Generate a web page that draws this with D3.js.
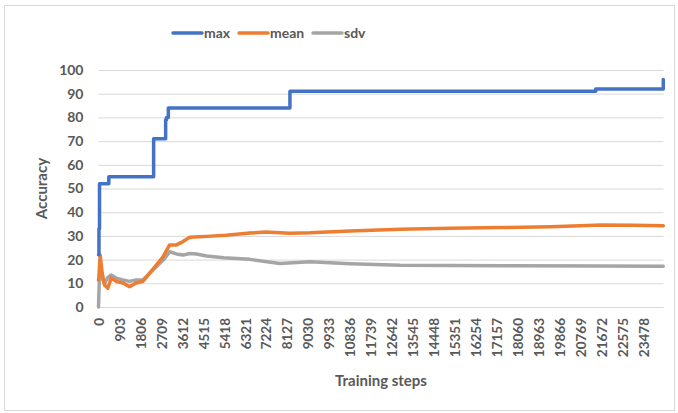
<!DOCTYPE html>
<meta charset="utf-8">
<style>
body { margin: 0; background: #fff; }
text { font-family: Lato, "Open Sans", sans-serif; font-weight: bold; fill: #595959; }
.grid line { stroke: #d9d9d9; stroke-width: 1; }
.grid .domain { display: none; }
.series { fill: none; stroke-width: 3.5; stroke-linejoin: round; stroke-linecap: round; }
</style>
<body>
<script src="https://cdn.jsdelivr.net/npm/d3@7"></script>
<script>

// step values
var maxSteps  = [0, 20, 43, 445, 2376, 2894, 2930, 3010, 8251, 21430, 24330, 24340];
var maxValues = [22, 33, 52, 55, 71, 79, 80, 84, 91, 92, 92, 96];

var meanSteps  = [0, 13, 72, 158, 259, 403, 547, 763, 1051, 1339, 1627, 1915, 2203, 2491, 2779, 3067, 3355, 3643, 3931, 4363, 4666, 5500, 6523, 7200, 8251, 9115, 10843, 13003, 15163, 17323, 19483, 20779, 21643, 23069, 24340];
var meanValues = [11.4, 12, 21.9, 14.3, 9.3, 7.9, 12.2, 10.8, 10.1, 8.6, 10.1, 10.8, 14.3, 17.7, 21.2, 26.2, 26.2, 27.6, 29.4, 29.6, 29.8, 30.3, 31.2, 31.6, 31.1, 31.3, 32.1, 32.8, 33.2, 33.5, 33.9, 34.3, 34.6, 34.5, 34.3];

var sdvSteps  = [0, 40, 80, 158, 259, 403, 547, 763, 1051, 1339, 1627, 1915, 2131, 2419, 2635, 2851, 3067, 3355, 3643, 3931, 4219, 4666, 5400, 6523, 7819, 9115, 10843, 13003, 17323, 21643, 24340];
var sdvValues = [0, 12.5, 14, 12.2, 10, 12.5, 13.5, 12.2, 11.4, 10.8, 11.4, 11.4, 13.5, 16.3, 18.4, 20.5, 23.3, 22.4, 21.9, 22.6, 22.4, 21.5, 20.8, 20.1, 18.4, 19.1, 18.3, 17.6, 17.4, 17.3, 17.2];

var xTicks = d3.range(0, 27).map(function(i) { return i * 903; });
var yTicks = [0, 10, 20, 30, 40, 50, 60, 70, 80, 90, 100];

var seriesNames  = ["max", "mean", "sdv"];
var seriesColors = ["#4472c4", "#ed7d31", "#a5a5a5"];

var W = 678, H = 413;
var plotL = 98.5, plotR = 663.5, plotT = 70, plotB = 307;

var x = d3.scaleLinear().domain([0, 24350]).range([plotL, plotR]);
var y = d3.scaleLinear().domain([0, 100]).range([plotB, plotT]);

var svg = d3.select("body").append("svg")
    .attr("width", W)
    .attr("height", H);

svg.append("rect")
    .attr("x", 4.5).attr("y", 5.5)
    .attr("width", 670).attr("height", 405)
    .attr("fill", "#fff")
    .attr("stroke", "#d9d9d9");

// gridlines
svg.append("g")
    .attr("class", "grid")
    .attr("transform", "translate(" + plotL + ",0)")
    .call(d3.axisLeft(y).tickValues(yTicks).tickSize(-(plotR - plotL)).tickFormat(""));

// y axis labels
var yAxis = svg.append("g")
    .attr("transform", "translate(" + plotL + ",0)")
    .call(d3.axisLeft(y).tickValues(yTicks).tickSize(0).tickPadding(15));
yAxis.select(".domain").remove();
yAxis.selectAll("text")
    .style("font-size", "14px")
    .style("font-family", "Lato")
    .attr("fill", "#595959");

// x axis labels, rotated
var xAxis = svg.append("g")
    .attr("transform", "translate(0," + plotB + ")")
    .call(d3.axisBottom(x).tickValues(xTicks).tickSize(0).tickFormat(d3.format("d")));
xAxis.select(".domain").remove();
xAxis.selectAll("text")
    .style("font-size", "13.5px")
    .style("font-family", "Lato")
    .attr("fill", "#595959")
    .attr("text-anchor", "end")
    .attr("transform", "rotate(-90)")
    .attr("x", -11)
    .attr("y", 0)
    .attr("dy", "0.36em");

svg.append("text")
    .attr("x", (plotL + plotR) / 2)
    .attr("y", 386)
    .attr("text-anchor", "middle")
    .style("font-size", "15px")
    .text("Training steps");

svg.append("text")
    .attr("transform", "translate(47," + (plotT + plotB) / 2 + ") rotate(-90)")
    .attr("text-anchor", "middle")
    .style("font-size", "15px")
    .text("Accuracy");

function pairs(steps, vals) {
  return steps.map(function(s, i) { return [s, vals[i]]; });
}

var line = d3.line()
    .x(function(d) { return x(d[0]); })
    .y(function(d) { return y(d[1]); });

svg.append("path")
    .datum(pairs(sdvSteps, sdvValues))
    .attr("class", "series")
    .attr("stroke", seriesColors[2])
    .attr("d", line);

svg.append("path")
    .datum(pairs(meanSteps, meanValues))
    .attr("class", "series")
    .attr("stroke", seriesColors[1])
    .attr("d", line);

svg.append("path")
    .datum(pairs(maxSteps, maxValues))
    .attr("class", "series")
    .attr("stroke", seriesColors[0])
    .attr("d", line.curve(d3.curveStepAfter));

// legend
var legendX = [173, 239, 313];
var legend = svg.selectAll(".legend")
    .data(seriesNames)
  .enter().append("g")
    .attr("class", "legend")
    .attr("transform", function(d, i) { return "translate(" + legendX[i] + ",33)"; });

legend.append("line")
    .attr("x1", 0).attr("x2", 29)
    .attr("stroke", function(d, i) { return seriesColors[i]; })
    .attr("stroke-width", 3.5)
    .attr("stroke-linecap", "round");

legend.append("text")
    .attr("x", 31)
    .attr("dy", "0.35em")
    .style("font-size", "14px")
    .text(function(d) { return d; });

</script>
</body>
